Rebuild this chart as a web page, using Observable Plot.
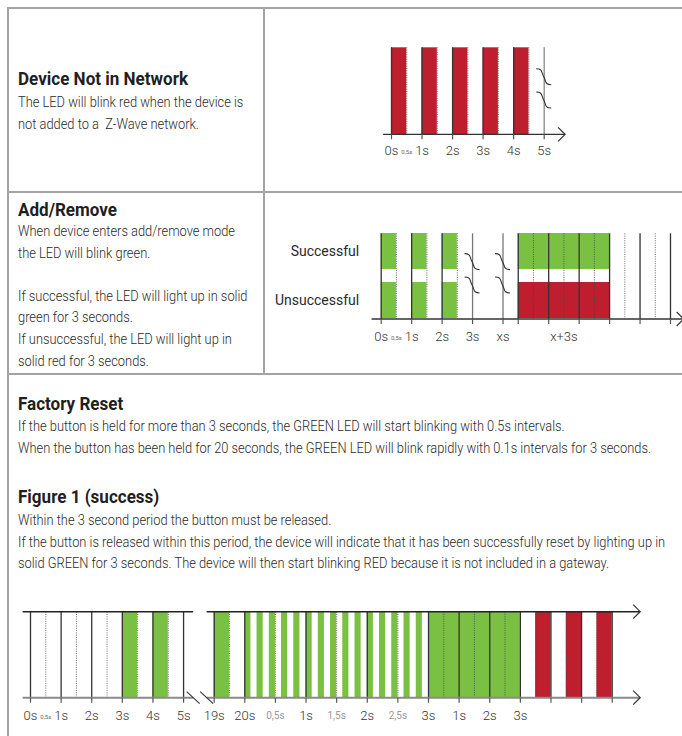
<!DOCTYPE html>
<html>
<head>
<meta charset="utf-8">
<script src="https://cdn.jsdelivr.net/npm/d3@7"></script>
<script src="https://cdn.jsdelivr.net/npm/@observablehq/plot@0.6"></script>
<style>
  html,body{margin:0;padding:0;background:#fff;}
  #page{position:relative;width:682px;height:736px;overflow:hidden;background:#fff;font-family:Roboto,"Noto Sans",sans-serif;}
  .rule{position:absolute;background:#a3a3a3;}
  .ln{position:absolute;left:18px;white-space:pre;transform-origin:0 50%;line-height:20px;height:20px;}
  .title{font-weight:700;font-size:18px;color:#1f1f1f;}
  .body{font-weight:300;font-size:14px;color:#2a2a2a;}
  .chart{position:absolute;}
  .chart svg{overflow:visible;}
</style>
</head>
<body>
<div id="page"></div>
<script>
// ================= DATA =================
const RED = "#BE1E2D";
const GREEN = "#7AC143";

// ---- texts ----
const titleTexts = ["Device Not in Network", "Add/Remove", "Factory Reset", "Figure 1 (success)"];
const deviceText = [
  "The LED will blink red when the device is",
  "not added to a  Z-Wave network."
];
const addRemoveText = [
  "When device enters add/remove mode",
  "the LED will blink green.",
  "",
  "If successful, the LED will light up in solid",
  "green for 3 seconds.",
  "If unsuccessful, the LED will light up in",
  "solid red for 3 seconds."
];
const resetText = [
  "If the button is held for more than 3 seconds, the GREEN LED will start blinking with 0.5s intervals.",
  "When the button has been held for 20 seconds, the GREEN LED will blink rapidly with 0.1s intervals for 3 seconds."
];
const figureText = [
  "Within the 3 second period the button must be released.",
  "If the button is released within this period, the device will indicate that it has been successfully reset by lighting up in",
  "solid GREEN for 3 seconds. The device will then start blinking RED because it is not included in a gateway."
];

// ---- Chart 1: Device Not in Network (seconds) ----
const dnTickPos = [0, 1, 2, 3, 4, 5];
const dnTickLabels = ["0s", "1s", "2s", "3s", "4s", "5s"];
const dnSmallPos = [0.5];
const dnSmallLabels = ["0,5s"];
const dnRedOn = [0, 1, 2, 3, 4];
const dnRedOff = [0.5, 1.5, 2.5, 3.5, 4.5];
const dnSolid = [0, 1, 2, 3, 4];
const dnDotted = [0.5, 1.5, 2.5, 3.5, 4.5];
const dnBreakLines = [5];
const dnAxisRange = [-0.26, 5.7];

// ---- Chart 2: Add/Remove (drawn timeline units) ----
const arRows = ["Successful", "Unsuccessful"];
const arBlinkOn = [0, 1, 2];
const arBlinkOff = [0.5, 1.5, 2.5];
const arResultStart = [4.5, 4.5];
const arResultEnd = [7.5, 7.5];
const arResultColors = [GREEN, RED];
const arTickPos = [0, 1, 2, 3, 4, 4.5, 5.5, 6.5, 7.5, 8.5, 9.5];
const arLabelPos = [0, 1, 2, 3, 4, 6];
const arLabels = ["0s", "1s", "2s", "3s", "xs", "x+3s"];
const arSmallPos = [0.5];
const arSmallLabels = ["0,5s"];
const arSolid = [0, 1, 2, 4.5, 5.5, 6.5, 7.5, 8.5, 9.5];
const arBreakLines = [3, 4];
const arDotted = [0.5, 1.5, 2.5, 5, 6, 7, 8, 9];
const arAxisRange = [-0.3, 9.95];

// ---- Chart 3: Factory reset, Figure 1 (drawn timeline units) ----
const frTickPos = [0,1,2,3,4,5,6,7,8,9,10,11,12,13,14,15,16,17,18,19];
const frLabelPos = [0, 1, 2, 3, 4, 5, 6, 7, 9, 11, 13, 14, 15, 16];
const frLabels = ["0s","1s","2s","3s","4s","5s","19s","20s","1s","2s","3s","1s","2s","3s"];
const frSmallPos = [0.5];
const frSmallLabels = ["0,5s"];
const frGreyPos = [8, 10, 12];
const frGreyLabels = ["0,5s", "1,5s", "2,5s"];
const frGreenOn  = [3, 4, 6, 7, 7.4, 7.8, 8.2, 8.6, 9, 9.4, 9.8, 10.2, 10.6, 11, 11.4, 11.8, 12.2, 12.6, 13];
const frGreenOff = [3.5, 4.5, 6.5, 7.2, 7.6, 8, 8.4, 8.8, 9.2, 9.6, 10, 10.4, 10.8, 11.2, 11.6, 12, 12.4, 12.8, 16];
const frRedOn  = [16.5, 17.5, 18.5];
const frRedOff = [17, 18, 19];
const frSolid = [0,1,2,3,4,5,6,7,9,11,13,14,15,16,17,18,19];
const frDotted = [0.5,1.5,2.5,3.5,4.5,6.5,8,10,12,13.5,14.5,15.5,16.5,17.5,18.5];
const frSegmentStart = [-0.24, 5.77];
const frSegmentEnd = [5.33, 19.93];

// ================= LAYOUT / TEXT =================
const page = document.getElementById("page");
function rule(l, t, w, h) {
  const d = document.createElement("div");
  d.className = "rule";
  Object.assign(d.style, {left: l + "px", top: t + "px", width: w + "px", height: h + "px"});
  page.appendChild(d);
}
rule(7, 7, 675, 2);     // top
rule(7, 7, 2, 729);     // left
rule(263, 7, 2, 368);   // middle divider
rule(7, 191, 675, 2);
rule(7, 373, 675, 2);

const lines = [];
function addLine(text, cls, cy) {
  const d = document.createElement("div");
  d.className = "ln " + cls;
  d.textContent = text;
  d.style.top = (cy - 10) + "px";
  page.appendChild(d);
  lines.push(d);
  return d;
}
const STEP = 21.6;
const titleY = [79, 210, 404, 497];
const bodyStart = [102, 231, 426, 520];
const bodies = [deviceText, addRemoveText, resetText, figureText];
let refTitle, refBody;
titleTexts.forEach((t, i) => {
  const d = addLine(t, "title", titleY[i]);
  if (i === 0) refTitle = d;
});
bodies.forEach((arr, i) => arr.forEach((t, j) => {
  const d = addLine(t, "body", bodyStart[i] + j * STEP);
  if (i === 2 && j === 1) refBody = d;
}));
// condense the type to the reference's narrow face
const titleScale = 170 / refTitle.getBoundingClientRect().width;
const bodyScale = 633 / refBody.getBoundingClientRect().width;
lines.forEach(d => {
  d.style.transform = `scaleX(${d.classList.contains("title") ? titleScale : bodyScale})`;
});

// ================= CUSTOM MARK HELPERS =================
function axisLine(starts, ends, {where = "bottom", stroke = "#333", width = 1.3, head = true} = {}) {
  return (index, scales, values, dims) => {
    const x = scales.x;
    const y = where === "bottom" ? dims.height - dims.marginBottom : dims.marginTop;
    const g = d3.create("svg:g").attr("fill", "none");
    starts.forEach((s, i) => {
      g.append("line").attr("x1", x(s)).attr("x2", x(ends[i])).attr("y1", y).attr("y2", y)
        .attr("stroke", stroke).attr("stroke-width", width);
    });
    if (head) {
      const xe = x(ends[ends.length - 1]);
      g.append("path").attr("d", `M${xe - 7},${y - 7}L${xe},${y}L${xe - 7},${y + 7}`)
        .attr("stroke", "#333").attr("stroke-width", 1.2);
    }
    return g.node();
  };
}
// S-shaped "time skipped" marks drawn across a line
function waveBreaks(xs, fracs) {
  return (index, scales, values, dims) => {
    const top = dims.marginTop, h = dims.height - dims.marginTop - dims.marginBottom;
    const g = d3.create("svg:g").attr("fill", "none").attr("stroke", "#333").attr("stroke-width", 1.1);
    xs.forEach(v => fracs.forEach(f => {
      g.append("path").attr("d", "M-7.5,-8C-1,-8 -2.5,-4.5 0,0S1,8 7.5,8")
        .attr("transform", `translate(${scales.x(v)},${top + f * h})`);
    }));
    return g.node();
  };
}
function slashBreaks(xs) {
  return (index, scales, values, dims) => {
    const y = dims.height - dims.marginBottom;
    const g = d3.create("svg:g").attr("stroke", "#333").attr("stroke-width", 1.1);
    xs.forEach(v => {
      const cx = scales.x(v);
      g.append("line").attr("x1", cx - 6.5).attr("y1", y - 6).attr("x2", cx + 6.5).attr("y2", y + 6);
    });
    return g.node();
  };
}
const labelMark = (pos, labels, opts) => Plot.text(pos.map((p, i) => ({p, t: labels[i]})),
  {x: "p", text: "t", frameAnchor: "bottom", lineAnchor: "middle", fontFamily: "Roboto, sans-serif", ...opts});
const tickAxis = (pos) => Plot.axisX(pos, {tickSize: 5, tickFormat: () => "", stroke: "#555", strokeWidth: 1.2, label: null});
const plotStyle = {background: "transparent", overflow: "visible", fontFamily: "Roboto, sans-serif"};

function place(svg, left, top) {
  const d = document.createElement("div");
  d.className = "chart";
  d.style.left = left + "px";
  d.style.top = top + "px";
  d.appendChild(svg);
  page.appendChild(d);
}

// ================= CHART 1 =================
const dnBlinks = dnRedOn.map((on, i) => ({on, off: dnRedOff[i]}));
place(Plot.plot({
  width: 220, height: 140,
  marginLeft: 21, marginRight: 46.3, marginTop: 17.3, marginBottom: 35.7,
  style: plotStyle,
  x: {domain: [0, 5]},
  marks: [
    Plot.rect(dnBlinks, {x1: "on", x2: "off", fill: RED}),
    Plot.ruleX(dnDotted, {stroke: "#444", strokeWidth: 0.8, strokeDasharray: "1,1.3"}),
    Plot.ruleX(dnSolid, {stroke: "#333", strokeWidth: 1.3}),
    Plot.ruleX(dnBreakLines, {stroke: "#888", strokeWidth: 1.3}),
    waveBreaks(dnBreakLines, [0.338, 0.606]),
    axisLine([dnAxisRange[0]], [dnAxisRange[1]]),
    tickAxis(dnTickPos),
    labelMark(dnTickPos, dnTickLabels, {dy: 16, fontSize: 13, fontWeight: 300, fill: "#333"}),
    labelMark(dnSmallPos, dnSmallLabels, {dy: 17, fontSize: 6, fill: "#666"})
  ]
}), 370, 30);

// ================= CHART 2 =================
const arBlinks = arRows.flatMap(row => arBlinkOn.map((on, i) => ({row, on, off: arBlinkOff[i]})));
const arResults = arRows.map((row, i) => ({row, start: arResultStart[i], end: arResultEnd[i], color: arResultColors[i]}));
place(Plot.plot({
  width: 412, height: 130,
  marginLeft: 110.7, marginRight: 12, marginTop: 13.3, marginBottom: 31,
  style: plotStyle,
  x: {domain: [0, 9.5], axis: null},
  y: {type: "band", domain: arRows, paddingInner: 0.258, paddingOuter: 0, axis: null},
  color: {type: "identity"},
  marks: [
    Plot.barX(arBlinks, {x1: "on", x2: "off", y: "row", fill: GREEN}),
    Plot.barX(arResults, {x1: "start", x2: "end", y: "row", fill: "color"}),
    Plot.ruleX(arDotted, {stroke: "#444", strokeWidth: 0.8, strokeDasharray: "1,1.3"}),
    Plot.ruleX(arSolid, {stroke: "#333", strokeWidth: 1.3}),
    Plot.ruleX(arBreakLines, {stroke: "#777", strokeWidth: 1.3}),
    waveBreaks(arBreakLines, [0.331, 0.603]),
    Plot.axisY({tickSize: 0, tickPadding: 22, fontSize: 14, fontWeight: 400, fill: "#2a2a2a", label: null}),
    axisLine([arAxisRange[0]], [arAxisRange[1]]),
    tickAxis(arTickPos),
    labelMark(arLabelPos, arLabels, {dy: 17.5, fontSize: 13, fontWeight: 300, fill: "#333"}),
    labelMark(arSmallPos, arSmallLabels, {dy: 18.5, fontSize: 6, fill: "#666"})
  ]
}), 270, 220);

// ================= CHART 3 =================
const frGreen = frGreenOn.map((on, i) => ({on, off: frGreenOff[i]}));
const frRed = frRedOn.map((on, i) => ({on, off: frRedOff[i]}));
place(Plot.plot({
  width: 682, height: 136,
  marginLeft: 30, marginRight: 70.3, marginTop: 11.7, marginBottom: 38.3,
  style: plotStyle,
  x: {domain: [0, 19], axis: null},
  marks: [
    Plot.rect(frGreen, {x1: "on", x2: "off", fill: GREEN}),
    Plot.rect(frRed, {x1: "on", x2: "off", fill: RED}),
    Plot.ruleX(frDotted, {stroke: "#444", strokeWidth: 0.8, strokeDasharray: "1,1.3"}),
    Plot.ruleX(frSolid, {stroke: "#333", strokeWidth: 1.3}),
    axisLine(frSegmentStart, frSegmentEnd, {where: "top", stroke: "#222", width: 1.4}),
    axisLine(frSegmentStart, frSegmentEnd, {where: "bottom", stroke: "#8a8a8a", width: 2}),
    slashBreaks([frSegmentEnd[0], frSegmentStart[1]]),
    tickAxis(frTickPos),
    labelMark(frLabelPos, frLabels, {dy: 17.5, fontSize: 13, fontWeight: 300, fill: "#333"}),
    labelMark(frGreyPos, frGreyLabels, {dy: 18, fontSize: 10, fill: "#999"}),
    labelMark(frSmallPos, frSmallLabels, {dy: 18.5, fontSize: 6, fill: "#666"})
  ]
}), 0, 600);
</script>
</body>
</html>
